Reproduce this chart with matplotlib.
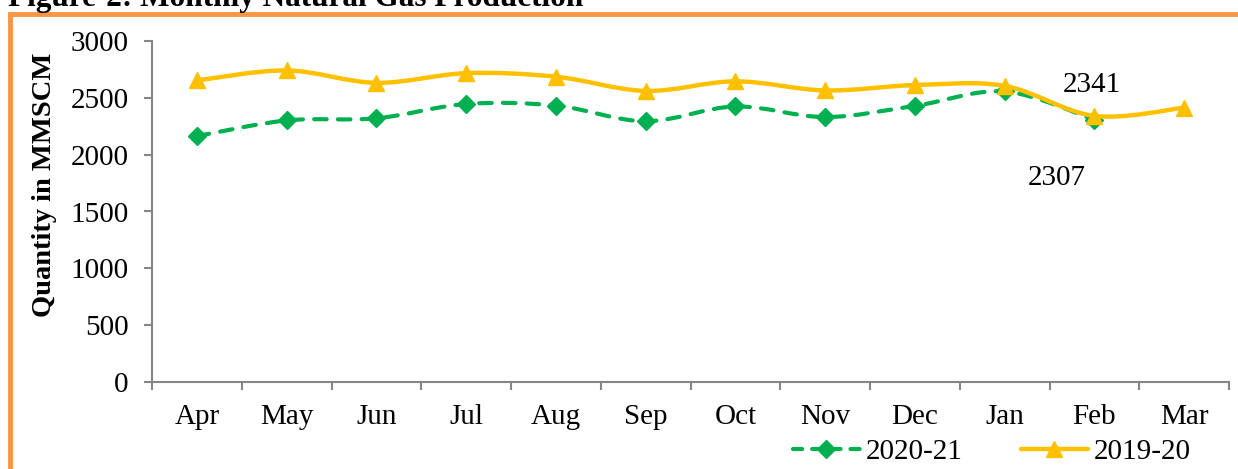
import matplotlib
matplotlib.use("Agg")
import matplotlib.pyplot as plt
from matplotlib.path import Path
from matplotlib.patches import PathPatch, Rectangle
from matplotlib.lines import Line2D
import numpy as np

plt.rcParams['font.family'] = ['Liberation Serif', 'DejaVu Serif']

months = ['Apr', 'May', 'Jun', 'Jul', 'Aug', 'Sep', 'Oct', 'Nov', 'Dec', 'Jan', 'Feb', 'Mar']
prod_2020_21 = [2163, 2301, 2320, 2446, 2432, 2294, 2424, 2331, 2429, 2556, 2307]
prod_2019_20 = [2653, 2741, 2632, 2717, 2686, 2561, 2645, 2565, 2612, 2605, 2341, 2413]
label_2020_21 = '2020-21'
label_2019_20 = '2019-20'

GREEN = '#00B050'
YELLOW = '#FFC000'
ORANGE = '#F79646'
FS = 21


def smooth_path(xs, ys):
    # Excel-style smoothed line: cubic Bezier through every point
    pts = np.column_stack([xs, ys]).astype(float)
    n = len(pts)
    verts = [pts[0]]
    codes = [Path.MOVETO]
    for i in range(n - 1):
        p0 = pts[max(i - 1, 0)]
        p1 = pts[i]
        p2 = pts[i + 1]
        p3 = pts[min(i + 2, n - 1)]
        c1 = p1 + (p2 - p0) / 6.0
        c2 = p2 - (p3 - p1) / 6.0
        verts += [c1, c2, p2]
        codes += [Path.CURVE4] * 3
    return Path(verts, codes)


fig = plt.figure(figsize=(12.38, 4.69), dpi=100)
ax = fig.add_axes([152 / 1238, 1 - 382 / 469, (1229 - 152) / 1238, (382 - 41) / 469])

x_new = np.arange(len(prod_2020_21))
x_old = np.arange(len(prod_2019_20))

# 2020-21 dashed green
green_patch = PathPatch(smooth_path(x_new, prod_2020_21), facecolor='none', edgecolor=GREEN,
                        lw=3.0, capstyle='round', joinstyle='round', zorder=3)
green_patch.set_linestyle((0, (3.0, 2.7)))
ax.add_patch(green_patch)
ax.plot(x_new, prod_2020_21, linestyle='none', marker='D', ms=9, color=GREEN, zorder=4)

# 2019-20 solid yellow
yellow_patch = PathPatch(smooth_path(x_old, prod_2019_20), facecolor='none', edgecolor=YELLOW,
                         lw=3.2, capstyle='round', joinstyle='round', zorder=5)
ax.add_patch(yellow_patch)
ax.plot(x_old, prod_2019_20, linestyle='none', marker='^', ms=11, color=YELLOW, zorder=6)

ax.text(9.97, 2613, '2341', fontsize=FS, ha='center', va='center')
ax.text(9.58, 1795, '2307', fontsize=FS, ha='center', va='center')

ax.set_xlim(-0.5, len(months) - 0.5)
ax.set_ylim(0, 3000)
ax.set_yticks(range(0, 3001, 500))
ax.set_xticks(np.arange(len(months)))
ax.set_xticklabels(months)
ax.set_xticks(np.arange(len(months) + 1) - 0.5, minor=True)

for s in ['top', 'right']:
    ax.spines[s].set_visible(False)
for s in ['left', 'bottom']:
    ax.spines[s].set_color('#868686')
    ax.spines[s].set_linewidth(1.5)

ax.tick_params(axis='y', direction='out', length=6, width=1.5, color='#868686',
               labelsize=FS, pad=11)
ax.tick_params(axis='x', which='major', length=0, labelsize=FS, pad=16)
ax.tick_params(axis='x', which='minor', direction='out', length=6, width=1.5, color='#868686')

fig.text(45 / 1238, 1 - 185 / 469, 'Quantity in MMSCM', rotation=90, fontsize=20.5,
         fontweight='bold', ha='center', va='center')

fig.text(8 / 1238, 1 - 6 / 469, 'Figure-2: Monthly Natural Gas Production', fontsize=22.5,
         fontweight='bold', ha='left', va='baseline')

frame = Rectangle((10 / 1238, -0.05), 1.2, 1 - 14 / 469 + 0.05, transform=fig.transFigure,
                  facecolor='none', edgecolor=ORANGE, lw=3.5, clip_on=False)
fig.patches.append(frame)

h_new = Line2D([], [], color=GREEN, lw=3.0, marker='D', ms=9, dash_capstyle='round',
               linestyle=(0, (2.2, 2.4)))
h_old = Line2D([], [], color=YELLOW, lw=3.2, marker='^', ms=11, solid_capstyle='round')
fig.legend([h_new, h_old], [label_2020_21, label_2019_20], loc='center',
           bbox_to_anchor=(0.801, 1 - 452 / 469), ncol=2, frameon=False, fontsize=FS,
           handlelength=2.3, handletextpad=0.2, columnspacing=2.0, borderpad=0)

fig.savefig('out.png', dpi=100)
